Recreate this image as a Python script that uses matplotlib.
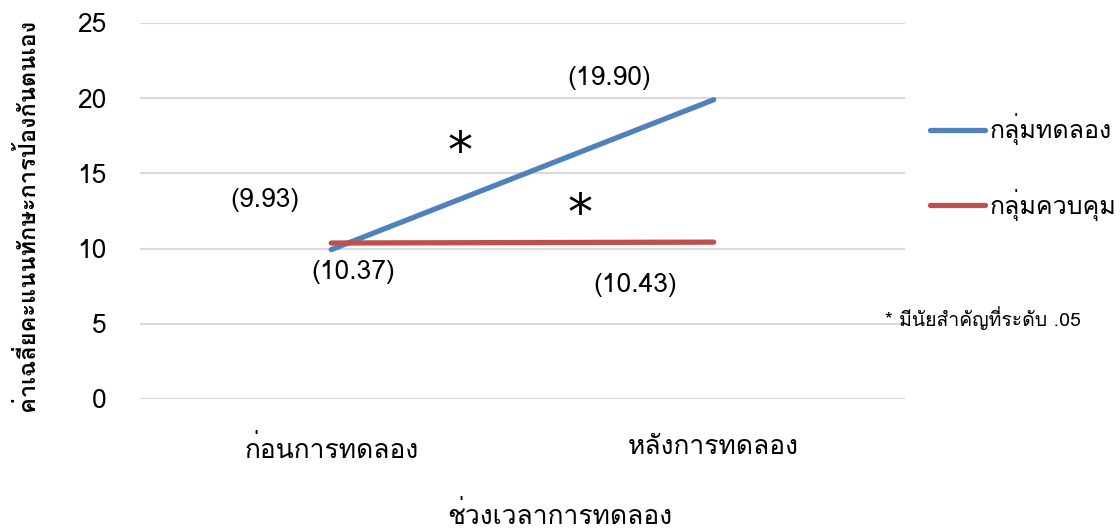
import matplotlib
matplotlib.use("Agg")
import matplotlib.pyplot as plt
from matplotlib import font_manager
from matplotlib.ft2font import FT2Font

# ---- data ----
categories = ["ก่อนการทดลอง", "หลังการทดลอง"]
series_names = ["กลุ่มทดลอง", "กลุ่มควบคุม"]
experimental = [9.93, 19.90]
control = [10.37, 10.43]
y_ticks = [0, 5, 10, 15, 20, 25]
x_title = "ช่วงเวลาการทดลอง"
y_title = "ค่าเฉลี่ยคะแนนทักษะการป้องกันตนเอง"
note = "* มีนัยสำคัญที่ระดับ .05"

# ---- find a font with Thai glyphs ----
thai_font = None
for f in font_manager.fontManager.ttflist:
    try:
        cm = FT2Font(f.fname).get_charmap()
        if 0x0E01 in cm and 0x0E48 in cm:
            thai_font = f.name
            break
    except Exception:
        pass
fams = ([thai_font] if thai_font else []) + ["DejaVu Sans"]
plt.rcParams['font.family'] = fams

fig = plt.figure(figsize=(11.2, 5.31), dpi=100)
ax = fig.add_axes([0.125, 0.2486, 0.808 - 0.125, 0.9567 - 0.2486])

x = list(range(len(categories)))
blue = "#4F81BD"
red = "#C0504D"
ax.plot(x, experimental, color=blue, lw=3.8, solid_capstyle='round', label=series_names[0], zorder=3)
ax.plot(x, control, color=red, lw=3.8, solid_capstyle='round', label=series_names[1], zorder=3)

ax.set_xlim(-0.5, 1.5)
ax.set_ylim(0, 25)
ax.set_yticks(y_ticks)
ax.set_xticks(x)
ax.set_xticklabels(categories)
ax.grid(axis='y', color='#D9D9D9', lw=1.5)
ax.set_axisbelow(True)
for s in ax.spines.values():
    s.set_visible(False)
ax.tick_params(axis='both', length=0, labelsize=19, colors='#000000')
ax.tick_params(axis='y', pad=24)
ax.tick_params(axis='x', pad=26)

# data labels
offsets_exp = [(-66, 50), (-104, 22)]
offsets_ctl = [(22, -29), (-78, -43)]
for xi, v, off in zip(x, experimental, offsets_exp):
    ax.annotate(f"({v:.2f})", (xi, v), xytext=off, textcoords='offset pixels',
                ha='center', va='center', fontsize=19)
for xi, v, off in zip(x, control, offsets_ctl):
    ax.annotate(f"({v:.2f})", (xi, v), xytext=off, textcoords='offset pixels',
                ha='center', va='center', fontsize=19)

# significance asterisks
ax.text(0.418, 0.616, "*", transform=ax.transAxes, ha='center', va='baseline',
        fontsize=36, family='DejaVu Sans')
ax.text(0.575, 0.452, "*", transform=ax.transAxes, ha='center', va='baseline',
        fontsize=36, family='DejaVu Sans')

fig.text(0.5, 0.03, x_title, ha='center', va='center', fontsize=19)
fig.text(0.024, 0.595, y_title, rotation=90, ha='center', va='center', fontsize=17, fontweight='bold')
fig.text(0.790, 0.401, note, ha='left', va='center', fontsize=14)

leg = fig.legend(loc='center left', bbox_to_anchor=(0.830, 0.685), frameon=False,
                 fontsize=18, handlelength=2.2, handletextpad=0.2, labelspacing=1.75,
                 borderpad=0, borderaxespad=0)

fig.savefig("out.png", dpi=100)
